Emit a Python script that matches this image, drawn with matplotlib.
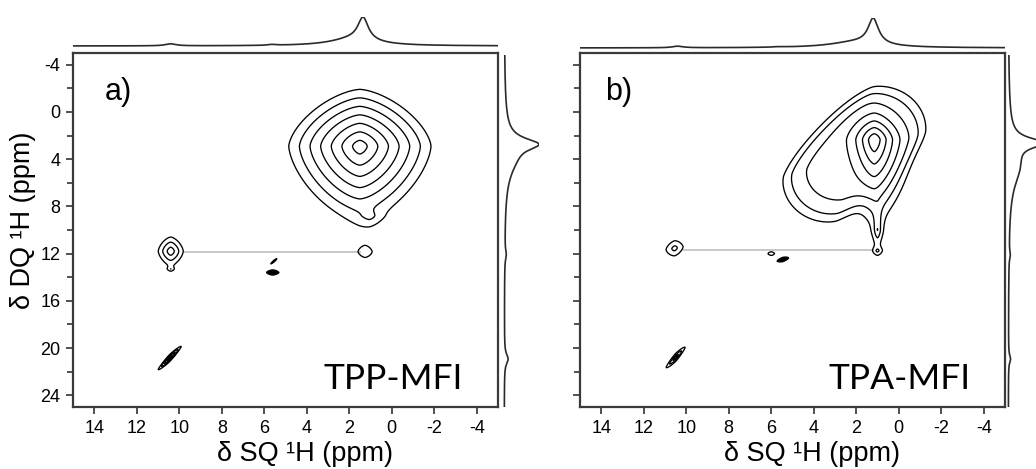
import numpy as np
import matplotlib.pyplot as plt

plt.rcParams['font.family'] = ['Liberation Sans', 'DejaVu Sans']
plt.rcParams['axes.unicode_minus'] = False

# 2D peak lists: SQ / DQ shift (ppm), SQ width, DQ width above / below
# the centre, amplitude, fall-off power, dDQ/dSQ and dSQ/dDQ shear
a_sq = [1.50, 1.05, 10.40, 10.40, 1.25, 5.55, 5.60, 10.45]
a_dq = [2.90, 8.80, 11.80, 13.30, 11.85, 12.65, 13.60, 20.85]
a_wsq = [0.50, 0.30, 0.21, 0.12, 0.60, 0.19, 0.06, 0.14]
a_wup = [0.72, 0.40, 0.43, 0.15, 0.90, 0.10, 0.045, 0.077]
a_wdn = [0.95, 0.40, 0.43, 0.15, 0.90, 0.10, 0.045, 0.077]
a_amp = [0.33, 1.5e-3, 6.7e-3, 1e-3, 6.7e-4, 9e-4, 0.05, 0.02]
a_pow = [1, 1, 1, 1, 1, 1, 1, 1]
a_sdq = [0, 0, 0, 0, 0, 1.5, 0, 1.8]
a_ssq = [0, 0, 0, 0, 0, 0, 0, 0]

b_sq = [2.10, 1.15, 1.00, 1.00, 10.55, 6.00, 5.45, 10.50]
b_dq = [3.60, 2.35, 10.00, 11.75, 11.55, 12.00, 12.50, 20.80]
b_wsq = [2.42, 0.27, 0.12, 0.15, 0.27, 0.40, 0.06, 0.16]
b_wup = [4.10, 0.50, 1.80, 0.25, 0.43, 0.40, 0.04, 0.12]
b_wdn = [4.10, 1.00, 0.60, 0.25, 0.43, 0.40, 0.04, 0.12]
b_amp = [5e-3, 0.44, 3e-3, 1.5e-3, 1.8e-3, 6e-4, 0.03, 6.7e-3]
b_pow = [4, 1, 1, 1, 1, 1, 1, 1]
b_sdq = [0.56, 0, 0, 0, 0.3, 0, 0.5, 1.9]
b_ssq = [0.15, 0, 0, 0, 0, 0, 0, 0]

# 1D projections: position, height, half width (Lorentzian lines)
a_top_pos = [1.35, 1.80, 10.40, 5.60]
a_top_h = [0.80, 0.25, 0.07, 0.03]
a_top_w = [0.30, 1.30, 0.30, 0.20]
a_side_pos = [2.60, 3.80, 12.00, 20.90]
a_side_h = [0.75, 0.25, 0.04, 0.10]
a_side_w = [0.60, 1.80, 0.50, 0.50]

b_top_pos = [1.20, 2.00, 10.40, 5.60]
b_top_h = [0.80, 0.18, 0.05, 0.015]
b_top_w = [0.30, 1.50, 0.30, 0.30]
b_side_pos = [2.50, 4.50, 12.00, 20.90]
b_side_h = [0.75, 0.25, 0.03, 0.05]
b_side_w = [0.50, 2.00, 0.40, 0.40]

# DQ correlation drawn between the 10.4 and 1.2 ppm sites
a_link = [9.8, 1.5, 11.85]
b_link = [10.1, 1.2, 11.70]

titles = ['a)', 'b)']
names = ['TPP-MFI', 'TPA-MFI']

levels = np.exp(np.arange(-7.8, -0.5, 1.0))
P = 1.55

sq = np.linspace(-5, 15, 1001)
dq = np.linspace(-5, 25, 1501)
SQ, DQ = np.meshgrid(sq, dq)


def spectrum(cs, cd, ws, wu, wl, amp, pw, sdq, ssq):
    z = np.zeros_like(SQ)
    for i in range(len(cs)):
        dx = SQ - cs[i]
        dy = DQ - cd[i]
        u = dx - ssq[i] * dy
        v = dy - sdq[i] * dx
        wd = np.where(v < 0, wu[i], wl[i])
        r = ((np.abs(u) / ws[i]) ** P + (np.abs(v) / wd) ** P) ** (1 / P)
        z += amp[i] * np.exp(-r ** pw[i])
    return z


def lorentz(x, pos, h, w):
    y = np.zeros_like(x)
    for i in range(len(pos)):
        y += h[i] / (1 + ((x - pos[i]) / w[i]) ** 2)
    return y / y.max()


W, H = 1036, 469
fig = plt.figure(figsize=(W / 100, H / 100), dpi=100)

panels = [
    (a_sq, a_dq, a_wsq, a_wup, a_wdn, a_amp, a_pow, a_sdq, a_ssq,
     a_top_pos, a_top_h, a_top_w, a_side_pos, a_side_h, a_side_w, a_link),
    (b_sq, b_dq, b_wsq, b_wup, b_wdn, b_amp, b_pow, b_sdq, b_ssq,
     b_top_pos, b_top_h, b_top_w, b_side_pos, b_side_h, b_side_w, b_link),
]
# pixel boxes: main left, top proj (top, bottom), side proj (left, right)
lefts = [73, 580]
tops = [(17, 47), (18, 49)]
sides = [(503, 539), (1007, 1045)]

for k, p in enumerate(panels):
    (cs, cd, ws, wu, wl, amp, pw, sdq, ssq,
     tp, th, tw, sp, sh, sw, link) = p
    x0 = lefts[k]
    ax = fig.add_axes([x0 / W, (H - 407) / H, 425 / W, 354 / H])
    z = spectrum(cs, cd, ws, wu, wl, amp, pw, sdq, ssq)
    ax.plot([link[0], link[1]], [link[2], link[2]], color='#c4c4c4', lw=1.3, zorder=1)
    ax.contour(SQ, DQ, z, levels=levels, colors='k', linewidths=0.95, zorder=2)
    ax.set_xlim(15, -5)
    ax.set_ylim(25, -5)
    ax.set_xticks(range(14, -5, -2))
    ax.set_yticks(range(-4, 25, 4))
    ax.set_yticks(range(-2, 25, 4), minor=True)
    ax.tick_params(axis='both', which='major', direction='out', length=5,
                   width=1.2, color='#333333', labelsize=13, pad=4)
    ax.tick_params(axis='y', which='minor', direction='out', length=4,
                   width=1.2, color='#333333')
    for s in ax.spines.values():
        s.set_color('#3a3a3a')
        s.set_linewidth(1.6)
    ax.set_xlabel('δ SQ ¹H (ppm)', fontsize=19.5)
    ax.xaxis.set_label_coords(0.547, -0.095)
    if k == 0:
        ax.set_ylabel('δ DQ ¹H (ppm)', fontsize=19.5)
        ax.yaxis.set_label_coords(-0.088, 0.528)
    else:
        ax.set_yticklabels([])
    ax.text(0.075 if k == 0 else 0.06, 0.868, titles[k], transform=ax.transAxes,
            fontsize=22, va='baseline', ha='left')
    ax.text(0.918, 0.05, names[k], transform=ax.transAxes, fontsize=25.5,
            family=['Lato', 'DejaVu Sans'], va='baseline', ha='right')

    # projection along DQ (top)
    t0, t1 = tops[k]
    axt = fig.add_axes([x0 / W, (H - t1) / H, 425 / W, (t1 - t0) / H])
    axt.plot(sq, lorentz(sq, tp, th, tw), color='#2a2a2a', lw=1.2)
    axt.set_xlim(15, -5)
    axt.set_ylim(-0.035, 1.0)
    axt.axis('off')

    # projection along SQ (side)
    s0, s1 = sides[k]
    axs = fig.add_axes([s0 / W, (H - 407) / H, (s1 - s0) / W, 352 / H])
    axs.plot(lorentz(dq, sp, sh, sw), dq, color='#2a2a2a', lw=1.2)
    axs.set_ylim(25, -5)
    axs.set_xlim(-0.035, 1.0)
    axs.axis('off')

fig.savefig('out.png', dpi=100)
